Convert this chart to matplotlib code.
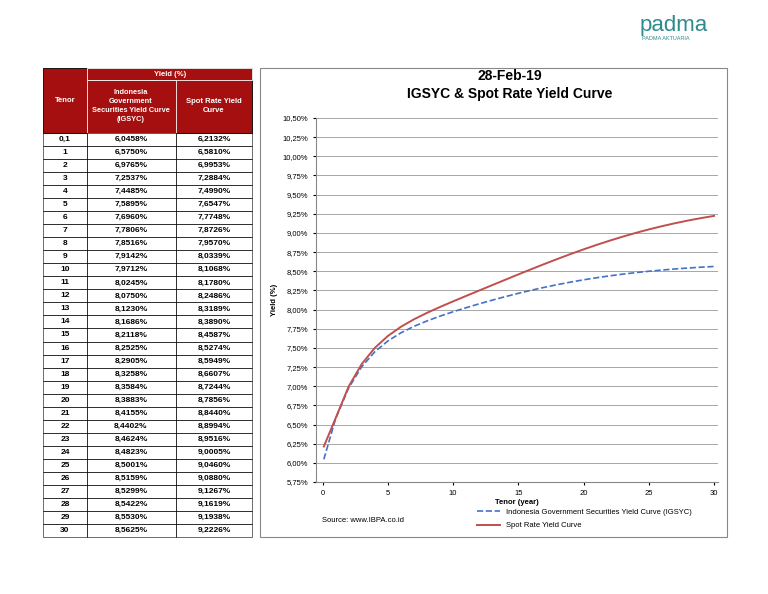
import matplotlib
matplotlib.use("Agg")
import matplotlib.pyplot as plt
from matplotlib.patches import Rectangle
from matplotlib.ticker import FuncFormatter

tenor = [0.1] + list(range(1, 31))
tenor_labels = ["0,1"] + [str(i) for i in range(1, 31)]
igsyc = [6.0458,6.5750,6.9765,7.2537,7.4485,7.5895,7.6960,7.7806,7.8516,7.9142,7.9712,8.0245,8.0750,8.1230,8.1686,8.2118,8.2525,8.2905,8.3258,8.3584,8.3883,8.4155,8.4402,8.4624,8.4823,8.5001,8.5159,8.5299,8.5422,8.5530,8.5625]
spot = [6.2132,6.5810,6.9953,7.2884,7.4990,7.6547,7.7748,7.8726,7.9570,8.0339,8.1068,8.1780,8.2486,8.3189,8.3890,8.4587,8.5274,8.5949,8.6607,8.7244,8.7856,8.8440,8.8994,8.9516,9.0005,9.0460,9.0880,9.1267,9.1619,9.1938,9.2226]

W, H = 768, 594
fig = plt.figure(figsize=(W/100, H/100), dpi=100)
plt.rcParams["font.family"] = "Liberation Sans"

def fx(x): return x / W
def fy(y): return 1 - y / H

def rect(x0, y0, x1, y1, fc="none", ec="black", lw=0.6):
    fig.add_artist(Rectangle((fx(x0), fy(y1)), fx(x1) - fx(x0), fy(y0) - fy(y1),
                             transform=fig.transFigure, facecolor=fc, edgecolor=ec, lw=lw))

def txt(x, y, s, **kw):
    fig.text(fx(x), fy(y), s, ha=kw.pop("ha", "center"), va=kw.pop("va", "center"), **kw)

# Table
red = "#a50f0f"
cols = [43, 87, 176, 252]
rect(43, 68, 252, 133, fc=red, ec="black")
rect(87, 68, 252, 80, fc=red, ec="white", lw=0.6)
rect(87, 80, 176, 133, fc=red, ec="white", lw=0.6)
txt(170, 74, "Yield (%)", color="white", fontsize=5.5, fontweight="bold")
txt(65, 100, "Tenor", color="white", fontsize=5.5, fontweight="bold")
txt(131, 106, "Indonesia\nGovernment\nSecurities Yield Curve\n(IGSYC)", color="white", fontsize=5.3, fontweight="bold", linespacing=1.45)
txt(214, 106, "Spot Rate Yield\nCurve", color="white", fontsize=5.5, fontweight="bold", linespacing=1.45)
rh = (537 - 133) / 31
for i in range(31):
    y0 = 133 + i * rh
    for c in range(3):
        rect(cols[c], y0, cols[c+1], y0 + rh, lw=0.4)
    yc = y0 + rh / 2
    txt(65, yc, tenor_labels[i], fontsize=6, fontweight="bold")
    txt(131, yc, f"{igsyc[i]:.4f}%".replace(".", ","), fontsize=6, fontweight="bold")
    txt(214, yc, f"{spot[i]:.4f}%".replace(".", ","), fontsize=6, fontweight="bold")

# Chart box
rect(260, 68, 727, 537, lw=0.8, ec="#888888")
txt(510, 76, "28-Feb-19", fontsize=10, fontweight="bold")
txt(510, 94, "IGSYC & Spot Rate Yield Curve", fontsize=10, fontweight="bold")

ax = fig.add_axes([fx(316), fy(482), fx(718) - fx(316), fy(118) - fy(482)])
l1, = ax.plot(tenor, igsyc, "--", color="#4472c4", lw=1.2)
l2, = ax.plot(tenor, spot, "-", color="#c0504d", lw=1.4)
ax.set_xlim(-0.5, 30.3)
ax.set_ylim(5.75, 10.5)
ax.set_yticks([5.75 + 0.25 * i for i in range(20)])
ax.set_xticks(range(0, 31, 5))
ax.yaxis.set_major_formatter(FuncFormatter(lambda v, p: f"{v:.2f}%".replace(".", ",")))
ax.grid(axis="y", color="#999999", lw=0.6)
ax.tick_params(labelsize=5.5, length=2)
for s in ["top", "right"]:
    ax.spines[s].set_visible(False)
ax.spines["left"].set_color("#888888")
ax.spines["bottom"].set_color("#888888")
ax.set_xlabel("Tenor (year)", fontsize=5.5, fontweight="bold", labelpad=2)
ax.set_ylabel("Yield (%)", fontsize=5.5, fontweight="bold", labelpad=3)
fig.legend([l1, l2], ["Indonesia Government Securities Yield Curve (IGSYC)", "Spot Rate Yield Curve"],
           loc="center left", bbox_to_anchor=(fx(470), fy(519)), frameon=False, fontsize=5.5,
           handlelength=3, labelspacing=0.8)
txt(322, 520, "Source: www.IBPA.co.id", fontsize=5.5, ha="left")

# Logo
txt(640, 25, "padma", fontsize=16, color="#2e8b8b", ha="left")
txt(642, 39, "PADMA AKTUARIA", fontsize=4, color="#2e8b8b", ha="left")

fig.savefig("out.png", dpi=100)
